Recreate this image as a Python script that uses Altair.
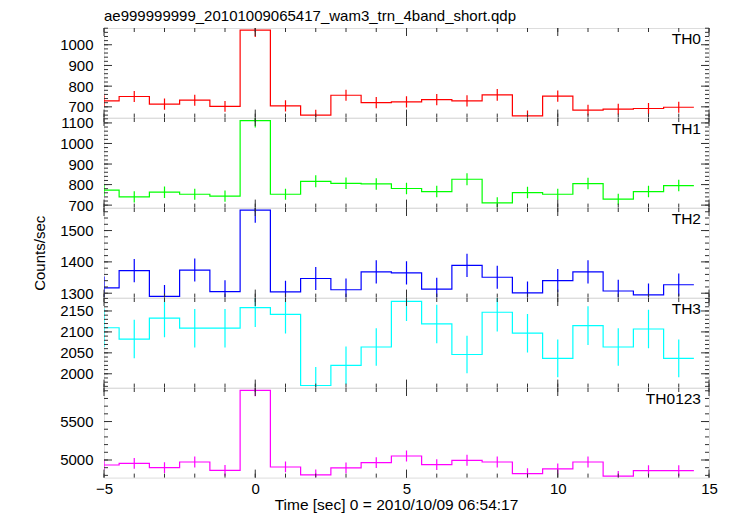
import altair as alt
import pandas as pd

# ---- data ----
centers = [-5, -4, -3, -2, -1, 0, 1, 2, 3, 4, 5, 6, 7, 8, 9, 10, 11, 12, 13, 14]

th0 = [729, 750, 713, 732, 702, 1071, 705, 660, 756, 720, 724, 735, 729, 758, 656, 752, 684, 689, 692, 698]
th0_err = [27, 27, 27, 27, 26, 33, 27, 26, 27, 27, 27, 27, 27, 28, 26, 27, 26, 26, 26, 26]

th1 = [773, 740, 763, 753, 744, 1111, 753, 816, 806, 803, 781, 766, 826, 711, 761, 753, 805, 729, 766, 795]
th1_err = [28, 27, 28, 27, 27, 33, 27, 29, 28, 28, 28, 28, 29, 27, 28, 27, 28, 27, 28, 28]

th2 = [1317, 1372, 1290, 1374, 1305, 1565, 1304, 1347, 1311, 1368, 1365, 1313, 1389, 1351, 1301, 1340, 1368, 1307, 1295, 1327]
th2_err = [36, 37, 36, 37, 36, 40, 36, 37, 36, 37, 37, 36, 37, 37, 36, 37, 37, 36, 36, 36]

th3 = [2110, 2083, 2133, 2109, 2109, 2158, 2142, 1972, 2020, 2064, 2173, 2119, 2046, 2147, 2097, 2037, 2115, 2064, 2107, 2037]
th3_err = [46, 46, 46, 46, 46, 46, 46, 44, 45, 45, 47, 46, 45, 46, 46, 45, 46, 45, 46, 45]

th0123 = [4935, 4957, 4901, 4974, 4866, 5905, 4909, 4806, 4897, 4966, 5052, 4940, 4996, 4974, 4823, 4884, 4974, 4789, 4862, 4862]
th0123_err = [70, 70, 70, 71, 70, 77, 70, 69, 70, 70, 71, 70, 71, 71, 69, 70, 71, 69, 70, 70]

names = ["TH0", "TH1", "TH2", "TH3", "TH0123"]
series = [th0, th1, th2, th3, th0123]
errors = [th0_err, th1_err, th2_err, th3_err, th0123_err]
colors = ["#ff0000", "#00ff00", "#0000ff", "#00ffff", "#ff00ff"]
y_domains = [[648, 1081], [688, 1124], [1286, 1572], [1967, 2181], [4771, 5936]]
y_labels = [[700, 800, 900, 1000], [700, 800, 900, 1000, 1100], [1300, 1400, 1500],
            [2000, 2050, 2100, 2150], [5000, 5500]]
y_minor_step = [20, 20, 20, 10, 100]
x_major = [-5, 0, 5, 10, 15]
x_minor = list(range(-5, 16))

title_text = "ae999999999_20101009065417_wam3_trn_4band_short.qdp"
x_title = "Time [sec] 0 = 2010/10/09 06:54:17"
y_title = "Counts/sec"

FONT = "Liberation Sans"
W = 605
H = 89.6
X_DOMAIN = [-5, 15]
MAJ = 8
MIN = 4
TICK_COLOR = "#333333"


def panel(i):
    vals = series[i]
    errs = errors[i]
    dom = y_domains[i]
    xs = [c - 0.5 for c in centers] + [centers[-1] + 0.5]
    ys = vals + [vals[-1]]
    line_df = pd.DataFrame({"x": xs, "y": ys})
    err_df = pd.DataFrame({"x": centers,
                           "lo": [v - e for v, e in zip(vals, errs)],
                           "hi": [v + e for v, e in zip(vals, errs)]})
    xs_scale = alt.Scale(domain=X_DOMAIN, nice=False, zero=False, clamp=True)
    ys_scale = alt.Scale(domain=dom, nice=False, zero=False, clamp=True)
    last = i == len(series) - 1

    lo, hi = dom
    step = y_minor_step[i]
    start = (int(lo) // step + 1) * step
    y_minor = list(range(start, int(hi) + 1, step))

    if last:
        x_axis_main = alt.Axis(
            orient="bottom",
            values=x_major, labels=True, ticks=False, domain=False, grid=False,
            labelFlush=False, format="d", labelFont=FONT, labelFontSize=15,
            labelColor="#000000", labelPadding=4, minExtent=0,
            title=x_title, titleFont=FONT, titleFontSize=15.5,
            titleFontWeight="normal", titleColor="#000000", titlePadding=1,
            titleX=292,
        )
    else:
        x_axis_main = None
    y_axis_main = alt.Axis(
        orient="left",
        values=y_labels[i], ticks=False, domain=False, grid=False, format="d",
        labelFont=FONT, labelFontSize=15, labelColor="#000000", labelPadding=11,
        minExtent=0,
        title=y_title if i == 2 else None, titleFont=FONT, titleFontSize=15,
        titleFontWeight="normal", titleColor="#000000", titlePadding=12,
    )
    main = alt.Chart(line_df).mark_line(
        interpolate="step-after", color=colors[i], strokeWidth=1.2, clip=True
    ).encode(
        x=alt.X("x:Q", scale=xs_scale, axis=x_axis_main),
        y=alt.Y("y:Q", scale=ys_scale, axis=y_axis_main),
    )

    # inward ticks on all four sides, placed through the scales
    def xticks(values, size):
        df = pd.DataFrame({"t": values})
        base = alt.Chart(df).mark_rule(color=TICK_COLOR, strokeWidth=1)
        top = base.encode(x=alt.X("t:Q", scale=xs_scale, axis=None),
                          y=alt.value(0), y2=alt.value(size))
        bot = base.encode(x=alt.X("t:Q", scale=xs_scale, axis=None),
                          y=alt.value(H - size), y2=alt.value(H))
        return [top, bot]

    def yticks(values, size):
        df = pd.DataFrame({"t": values})
        base = alt.Chart(df).mark_rule(color=TICK_COLOR, strokeWidth=1)
        left = base.encode(y=alt.Y("t:Q", scale=ys_scale, axis=None),
                           x=alt.value(0), x2=alt.value(size))
        right = base.encode(y=alt.Y("t:Q", scale=ys_scale, axis=None),
                            x=alt.value(W - size), x2=alt.value(W))
        return [left, right]

    tick_layers = (xticks(x_minor, MIN) + xticks(x_major, MAJ)
                   + yticks(y_minor, MIN) + yticks(y_labels[i], MAJ))

    errbars = alt.Chart(err_df).mark_rule(color=colors[i], strokeWidth=1.2, clip=True).encode(
        x=alt.X("x:Q", scale=xs_scale, axis=None),
        y=alt.Y("lo:Q", scale=ys_scale, axis=None),
        y2="hi:Q",
    )

    label = alt.Chart(pd.DataFrame({"t": [names[i]]})).mark_text(
        align="right", baseline="alphabetic", font=FONT, fontSize=15.5, color="#000000"
    ).encode(
        x=alt.value(W - 8),
        y=alt.value(16),
        text="t:N",
    )

    props = dict(width=W, height=H)
    if i == 0:
        props["title"] = alt.TitleParams(
            title_text, anchor="start", frame="group", font=FONT, fontSize=15,
            fontWeight="normal", color="#000000", offset=4,
        )
    return alt.layer(main, errbars, *tick_layers, label).resolve_axis(
        x="independent", y="independent"
    ).properties(**props)


chart = alt.vconcat(*[panel(i) for i in range(len(series))], spacing=0, bounds="flush").properties(
    padding={"left": 24, "top": 0, "right": 5, "bottom": 0}
).configure_view(
    stroke="#000000", strokeWidth=1.2
).configure(background="#ffffff")

chart.save("out.html", embed_options={"renderer": "svg", "actions": False})
